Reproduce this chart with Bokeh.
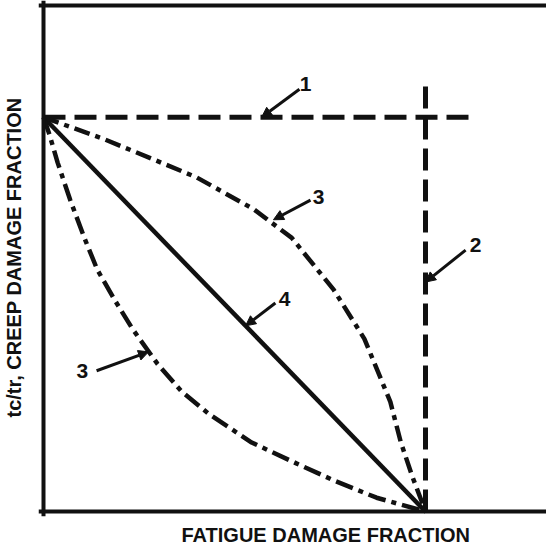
from bokeh.plotting import figure
from bokeh.models import Range1d, Span, Label, Arrow, NormalHead, Title
from bokeh.embed import file_html
from bokeh.resources import INLINE

# ---- data (fractions) ----
# 1: creep limit line (creep fraction = 1)
line1_x = [0.0, 1.12]
line1_y = [1.0, 1.0]
# 2: fatigue limit line (fatigue fraction = 1)
line2_x = [1.0, 1.0]
line2_y = [0.0, 1.094]
# 4: linear damage summation
line4_x = [0.0, 1.0]
line4_y = [1.0, 0.0]
# 3: upper (convex) interaction curve
upper3_x = [0.0, 0.08, 0.16, 0.288, 0.40, 0.55, 0.65, 0.76, 0.84, 0.908, 0.935, 0.965, 1.0]
upper3_y = [1.0, 0.972, 0.944, 0.893, 0.848, 0.767, 0.694, 0.562, 0.438, 0.278, 0.177, 0.09, 0.0]
# 3: lower (concave) interaction curve
lower3_x = [0.0, 0.016, 0.037, 0.07, 0.107, 0.141, 0.188, 0.233, 0.298, 0.361, 0.435, 0.545, 0.662, 0.762, 0.872, 1.0]
lower3_y = [1.0, 0.955, 0.885, 0.79, 0.694, 0.613, 0.534, 0.463, 0.375, 0.305, 0.246, 0.175, 0.122, 0.078, 0.035, 0.0]

curve_labels = ["1", "3", "2", "4", "3"]
x_title = "FATIGUE DAMAGE FRACTION"
y_title = "tc/tr, CREEP DAMAGE FRACTION"

INK = "#111111"
FONT = "Liberation Sans"

p = figure(width=546, height=551,
           x_range=Range1d(-5 / 382, 503 / 382),
           y_range=Range1d(-5 / 395, 512 / 395),
           x_axis_type=None, y_axis_type=None,
           min_border_left=38, min_border_right=0,
           min_border_top=0, min_border_bottom=34,
           output_backend="svg", toolbar_location=None)
p.outline_line_color = None
p.background_fill_color = "white"
p.border_fill_color = "white"

# axis titles (placed in the side panels)
p.add_layout(Title(text=x_title, align="left", offset=143,
                   text_font=FONT, text_font_style="bold", text_font_size="20px",
                   text_color=INK, standoff=11), "below")
p.add_layout(Title(text=" ", text_font_size="11px", standoff=0), "left")
p.add_layout(Title(text=y_title, align="left", offset=99,
                   text_font=FONT, text_font_style="bold", text_font_size="20px",
                   text_color=INK, standoff=0), "left")

# frame lines (left, bottom, top)
p.add_layout(Span(location=0, dimension="height", line_color=INK, line_width=4))
p.add_layout(Span(location=0, dimension="width", line_color=INK, line_width=4))
p.add_layout(Span(location=507 / 395, dimension="width", line_color=INK, line_width=4))

p.line(line1_x, line1_y, line_color=INK, line_width=5, line_dash="22 9")
p.line(line2_x, line2_y, line_color=INK, line_width=5, line_dash="22 9")
p.line(line4_x, line4_y, line_color=INK, line_width=4.5)
p.line(upper3_x, upper3_y, line_color=INK, line_width=4.5, line_dash="16 6 5 6")
p.line(lower3_x, lower3_y, line_color=INK, line_width=4.5, line_dash="18 6 5 6")

# curve number labels with leader arrows
lab_pos = [(0.686, 1.084), (0.72, 0.797), (1.131, 0.676), (0.631, 0.539), (0.102, 0.357)]
arrows = [((0.670, 1.071), (0.571, 1.0)),
          ((0.699, 0.79), (0.602, 0.74)),
          ((1.105, 0.663), (1.0, 0.582)),
          ((0.607, 0.529), (0.529, 0.471)),
          ((0.139, 0.357), (0.275, 0.405))]
for t, (lx, ly), ((sx, sy), (ex, ey)) in zip(curve_labels, lab_pos, arrows):
    p.add_layout(Label(x=lx, y=ly, text=t, text_align="center", text_baseline="middle",
                       text_font=FONT, text_font_style="bold",
                       text_font_size="21px", text_color=INK))
    p.add_layout(Arrow(x_start=sx, y_start=sy, x_end=ex, y_end=ey, line_color=INK, line_width=3,
                       end=NormalHead(size=10, fill_color=INK, line_color=INK)))

open("out.html", "w").write(file_html(p, INLINE))
